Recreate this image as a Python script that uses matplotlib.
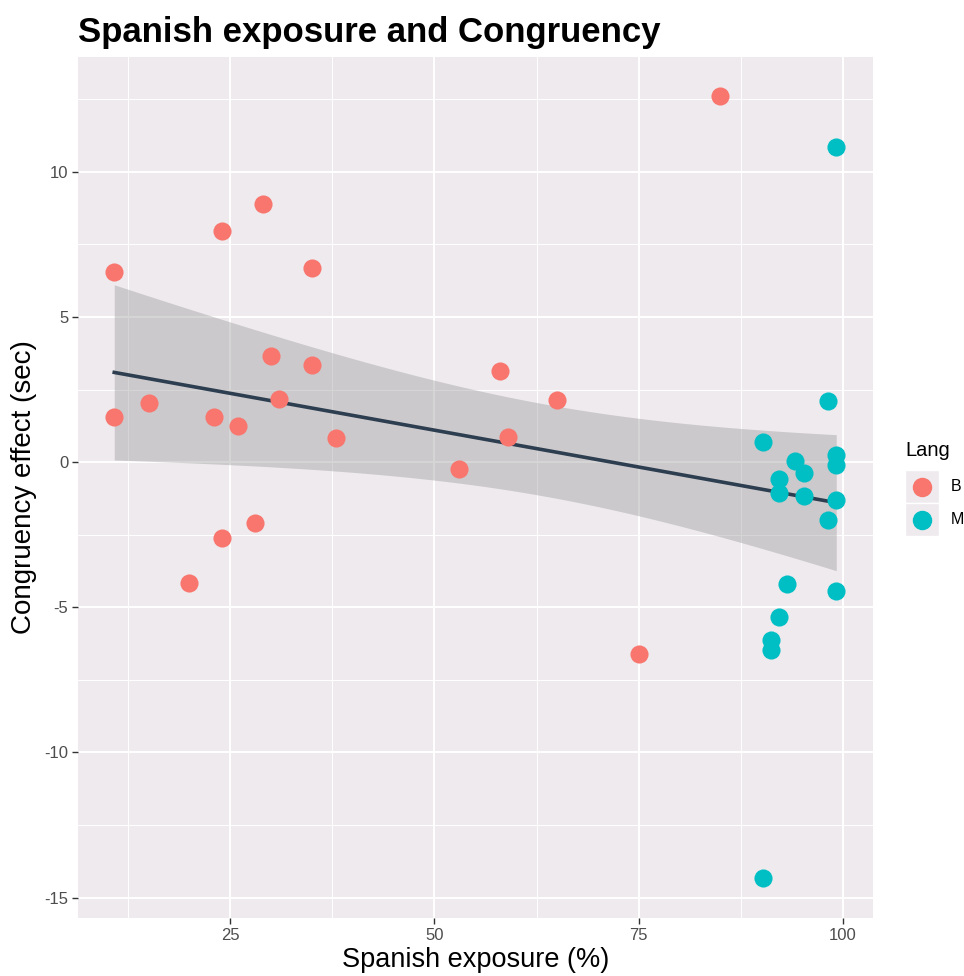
import numpy as np
import matplotlib.pyplot as plt
from matplotlib.patches import Rectangle
from matplotlib.lines import Line2D

plt.rcParams['font.family'] = ['Liberation Sans', 'DejaVu Sans']
plt.rcParams['axes.unicode_minus'] = False

# Data
exposure_b = [10.8, 10.8, 15, 20, 23, 24, 24, 26, 28, 29, 30, 31, 35, 35, 38,
              53, 58, 59, 65, 75, 85]
congruency_b = [6.54, 1.55, 2.03, -4.17, 1.55, 7.95, -2.62, 1.24, -2.10, 8.88,
                3.65, 2.17, 6.68, 3.34, 0.83, -0.24, 3.13, 0.86, 2.13, -6.61, 12.60]
exposure_m = [99.2, 98.2, 90.2, 99.2, 99.2, 94.2, 95.2, 92.2, 92.2, 95.2, 99.2,
              98.2, 93.2, 99.2, 92.2, 91.2, 91.2, 90.2]
congruency_m = [10.85, 2.10, 0.69, 0.24, -0.10, 0.03, -0.38, -0.59, -1.07, -1.17,
                -1.31, -2.00, -4.20, -4.44, -5.34, -6.13, -6.47, -14.33]
groups = ['B', 'M']
colors = {'B': '#F8766D', 'M': '#00BFC4'}

x_ticks = [25, 50, 75, 100]
y_ticks = [-15, -10, -5, 0, 5, 10]

# linear fit with 95% confidence band (like geom_smooth(method="lm"))
x_all = np.array(exposure_b + exposure_m, dtype=float)
y_all = np.array(congruency_b + congruency_m, dtype=float)
n = len(x_all)
slope, intercept = np.polyfit(x_all, y_all, 1)
resid = y_all - (slope * x_all + intercept)
s = np.sqrt(np.sum(resid ** 2) / (n - 2))
sxx = np.sum((x_all - x_all.mean()) ** 2)
t_crit = 2.026  # t(0.975, df=37)
xs = np.linspace(x_all.min(), x_all.max(), 80)
ys = slope * xs + intercept
half = t_crit * s * np.sqrt(1 / n + (xs - x_all.mean()) ** 2 / sxx)

fig = plt.figure(figsize=(9.64, 9.76), dpi=100)
ax = fig.add_axes([0.0809, 0.0594, 0.8247, 0.8822])
bg = '#EEEAEE'
ax.set_facecolor(bg)

ax.set_xlim(6.36, 103.7)
ax.set_ylim(-15.70, 13.95)
ax.set_xticks(x_ticks)
ax.set_yticks(y_ticks)
ax.set_xticks([12.5, 37.5, 62.5, 87.5], minor=True)
ax.set_yticks([-12.5, -7.5, -2.5, 2.5, 7.5, 12.5], minor=True)
ax.grid(which='major', color='white', linewidth=1.4)
ax.grid(which='minor', color='white', linewidth=0.7)
ax.set_axisbelow(True)
for sp in ax.spines.values():
    sp.set_visible(False)
ax.tick_params(which='major', length=4, width=1, color='#333333',
               labelsize=12, labelcolor='#4D4D4D', pad=3)
ax.tick_params(which='minor', length=0)

ax.fill_between(xs, ys - half, ys + half, color='#999999', alpha=0.4,
                linewidth=0, zorder=2)
ax.plot(xs, ys, color='#2C3E50', linewidth=2.6, zorder=3)

ax.scatter(exposure_b, congruency_b, s=170, color=colors['B'], linewidths=0, zorder=4)
ax.scatter(exposure_m, congruency_m, s=170, color=colors['M'], linewidths=0, zorder=4)

ax.set_xlabel('Spanish exposure (%)', fontsize=19.5, labelpad=3)
ax.set_ylabel('Congruency effect (sec)', fontsize=20, labelpad=5)
fig.text(0.0809, 0.957, 'Spanish exposure and Congruency', fontsize=25,
         fontweight='bold', ha='left', va='baseline')

# legend drawn by hand, ggplot style
fig.text(0.939, 0.538, 'Lang', fontsize=14.5, ha='left', va='center')
key_w, key_h = 34 / 964, 33 / 976
for i, g in enumerate(groups):
    x0 = 905 / 964
    y0 = 1 - (470 + i * 33) / 976 - key_h
    fig.add_artist(Rectangle((x0, y0), key_w, key_h, transform=fig.transFigure,
                             facecolor=bg, edgecolor='white', linewidth=1))
    fig.add_artist(Line2D([x0 + key_w / 2], [y0 + key_h / 2], marker='o',
                          markersize=13, color=colors[g], linestyle='none',
                          transform=fig.transFigure))
    fig.text(x0 + key_w + 12 / 964, y0 + key_h / 2, g, fontsize=11.5,
             ha='left', va='center')

fig.savefig('out.png', dpi=100)
